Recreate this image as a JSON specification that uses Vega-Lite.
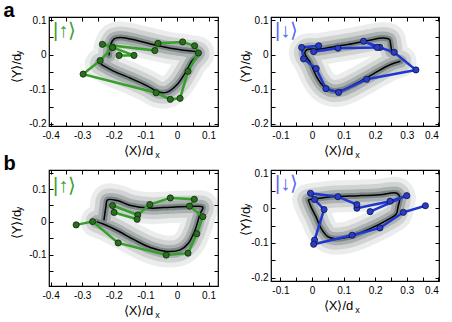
{
"$schema":"https://vega.github.io/schema/vega-lite/v6.json",
"padding":{"left":3,"top":0,"right":0,"bottom":0},
"config":{"view":{"stroke":"black","strokeWidth":1.2},"font":"Liberation Sans",
 "axis":{"grid":false,"domain":false,"tickSize":-4,"tickColor":"black","tickWidth":1,"labelFont":"Liberation Sans","labelFontSize":10,"labelColor":"black","titleFont":"Liberation Sans","titleFontWeight":"normal","titleColor":"black","zindex":1}},
"datasets":{
"aUpMean":[{"i":1,"x":-0.241,"y":-0.027},{"i":2,"x":-0.199,"y":-0.048},{"i":3,"x":-0.147,"y":-0.068},{"i":4,"x":-0.094,"y":-0.09},{"i":5,"x":-0.058,"y":-0.108},{"i":6,"x":-0.031,"y":-0.108},{"i":7,"x":0.0,"y":-0.087},{"i":8,"x":0.026,"y":-0.053},{"i":9,"x":0.047,"y":-0.019},{"i":10,"x":0.068,"y":0.005},{"i":11,"x":0.031,"y":0.012},{"i":12,"x":-0.021,"y":0.019},{"i":13,"x":-0.073,"y":0.029},{"i":14,"x":-0.126,"y":0.041},{"i":15,"x":-0.178,"y":0.05},{"i":16,"x":-0.199,"y":0.046},{"i":17,"x":-0.21,"y":0.029},{"i":18,"x":-0.215,"y":-0.002}],
"aUpTraj":[{"i":1,"x":-0.183,"y":-0.002},{"i":2,"x":-0.136,"y":-0.002},{"i":3,"x":-0.204,"y":0.021},{"i":4,"x":-0.236,"y":0.03},{"i":5,"x":-0.07,"y":0.012},{"i":6,"x":-0.06,"y":0.033},{"i":7,"x":0.018,"y":0.037},{"i":8,"x":0.056,"y":0.026},{"i":9,"x":0.068,"y":0.005},{"i":10,"x":0.035,"y":-0.048},{"i":11,"x":0.01,"y":-0.126},{"i":12,"x":-0.021,"y":-0.129},{"i":13,"x":-0.066,"y":-0.11},{"i":14,"x":-0.297,"y":-0.056},{"i":15,"x":-0.243,"y":-0.017},{"i":16,"x":-0.204,"y":0.021}],
"aDnMean":[{"i":1,"x":0.28,"y":-0.019},{"i":2,"x":0.247,"y":-0.029},{"i":3,"x":0.193,"y":-0.056},{"i":4,"x":0.138,"y":-0.084},{"i":5,"x":0.095,"y":-0.102},{"i":6,"x":0.062,"y":-0.104},{"i":7,"x":0.035,"y":-0.09},{"i":8,"x":0.013,"y":-0.061},{"i":9,"x":-0.005,"y":-0.024},{"i":10,"x":-0.023,"y":0.005},{"i":11,"x":-0.016,"y":0.015},{"i":12,"x":0.019,"y":0.016},{"i":13,"x":0.073,"y":0.024},{"i":14,"x":0.127,"y":0.032},{"i":15,"x":0.182,"y":0.042},{"i":16,"x":0.225,"y":0.048},{"i":17,"x":0.245,"y":0.044},{"i":18,"x":0.249,"y":0.029},{"i":19,"x":0.252,"y":0.01}],
"aDnTraj":[{"i":1,"x":0.021,"y":0.026},{"i":2,"x":-0.033,"y":0.021},{"i":3,"x":-0.027,"y":-0.012},{"i":4,"x":0.013,"y":-0.04},{"i":5,"x":0.044,"y":-0.098},{"i":6,"x":0.084,"y":-0.109},{"i":7,"x":0.173,"y":-0.071},{"i":8,"x":0.329,"y":-0.044},{"i":9,"x":0.26,"y":0.007},{"i":10,"x":0.215,"y":0.021},{"i":11,"x":0.163,"y":0.039},{"i":12,"x":0.206,"y":0.021},{"i":13,"x":0.082,"y":0.019},{"i":14,"x":0.005,"y":0.009}],
"bUpMean":[{"i":1,"x":-0.231,"y":0.005},{"i":2,"x":-0.225,"y":0.045},{"i":3,"x":-0.22,"y":0.067},{"i":4,"x":-0.189,"y":0.065},{"i":5,"x":-0.147,"y":0.05},{"i":6,"x":-0.084,"y":0.042},{"i":7,"x":-0.021,"y":0.045},{"i":8,"x":0.042,"y":0.047},{"i":9,"x":0.082,"y":0.045},{"i":10,"x":0.073,"y":0.024},{"i":11,"x":0.058,"y":-0.023},{"i":12,"x":0.037,"y":-0.064},{"i":13,"x":0.01,"y":-0.085},{"i":14,"x":-0.031,"y":-0.09},{"i":15,"x":-0.084,"y":-0.078},{"i":16,"x":-0.136,"y":-0.054},{"i":17,"x":-0.189,"y":-0.026},{"i":18,"x":-0.231,"y":-0.007},{"i":19,"x":-0.254,"y":0.001}],
"bUpTraj":[{"i":1,"x":-0.319,"y":-0.009},{"i":2,"x":-0.267,"y":0.001},{"i":3,"x":-0.186,"y":-0.064},{"i":4,"x":-0.034,"y":-0.101},{"i":5,"x":0.035,"y":-0.095},{"i":6,"x":0.063,"y":-0.036},{"i":7,"x":0.082,"y":0.016},{"i":8,"x":0.04,"y":0.048},{"i":9,"x":0.055,"y":0.069},{"i":10,"x":-0.021,"y":0.073},{"i":11,"x":-0.086,"y":0.053},{"i":12,"x":-0.124,"y":0.021},{"i":13,"x":-0.204,"y":0.05},{"i":14,"x":-0.199,"y":0.029},{"i":15,"x":-0.126,"y":0.008}],
"bDnMean":[{"i":1,"x":-0.012,"y":0.024},{"i":2,"x":0.062,"y":0.033},{"i":3,"x":0.149,"y":0.036},{"i":4,"x":0.215,"y":0.039},{"i":5,"x":0.269,"y":0.043},{"i":6,"x":0.278,"y":0.031},{"i":7,"x":0.272,"y":0.003},{"i":8,"x":0.267,"y":-0.016},{"i":9,"x":0.236,"y":-0.035},{"i":10,"x":0.171,"y":-0.064},{"i":11,"x":0.117,"y":-0.083},{"i":12,"x":0.073,"y":-0.088},{"i":13,"x":0.051,"y":-0.083},{"i":14,"x":0.029,"y":-0.059},{"i":15,"x":0.013,"y":-0.026},{"i":16,"x":-0.003,"y":0.003},{"i":17,"x":-0.012,"y":0.024}],
"bDnTraj":[{"i":1,"x":0.184,"y":-0.01},{"i":2,"x":0.3,"y":0.036},{"i":3,"x":0.247,"y":0.02},{"i":4,"x":0.142,"y":0.0},{"i":5,"x":0.142,"y":0.01},{"i":6,"x":0.082,"y":0.033},{"i":7,"x":-0.005,"y":0.043},{"i":8,"x":0.008,"y":0.025},{"i":9,"x":0.038,"y":-0.004},{"i":10,"x":0.008,"y":-0.092},{"i":11,"x":0.005,"y":-0.104},{"i":12,"x":0.127,"y":-0.078},{"i":13,"x":0.215,"y":-0.057},{"i":14,"x":0.289,"y":-0.012},{"i":15,"x":0.359,"y":0.007}]
},
"spacing":-8,
"vconcat":[
{"title":{"text":"a","anchor":"start","fontSize":20,"fontWeight":"bold","offset":-6,"dx":-6,"color":"black"},
 "spacing":18,
 "hconcat":[
 {"width":169,"height":109,
  "title":{"text":"|↑⟩","anchor":"start","frame":"group","fontSize":20,"fontWeight":"normal","color":"#3aa02e","offset":-26,"dx":4},
  "encoding":{"x":{"field":"x","type":"quantitative","scale":{"domain":[-0.405,0.13],"nice":false,"zero":false},"axis":null},"y":{"field":"y","type":"quantitative","scale":{"domain":[-0.206,0.109],"nice":false,"zero":false},"axis":null},"order":{"field":"i"}},
  "layer":[
   {"data":{"name":"aUpMean"},"mark":{"type":"line","interpolate":"catmull-rom","color":"#3a4848","strokeWidth":32,"opacity":0.1,"strokeCap":"round","strokeJoin":"round"}},
   {"data":{"name":"aUpMean"},"mark":{"type":"line","interpolate":"catmull-rom","color":"#3a4848","strokeWidth":22,"opacity":0.15,"strokeCap":"round","strokeJoin":"round"}},
   {"data":{"name":"aUpMean"},"mark":{"type":"line","interpolate":"catmull-rom","color":"#3a4848","strokeWidth":13,"opacity":0.25,"strokeCap":"round","strokeJoin":"round"}},
   {"data":{"name":"aUpMean"},"mark":{"type":"line","interpolate":"catmull-rom","color":"#3a4848","strokeWidth":6,"opacity":0.4,"strokeCap":"round","strokeJoin":"round"}},
   {"data":{"name":"aUpMean"},"mark":{"type":"line","interpolate":"catmull-rom","color":"black","strokeWidth":1.5}},
   {"data":{"name":"aUpTraj"},"mark":{"type":"line","color":"#35a02a","strokeWidth":2.5},
    "encoding":{"x":{"field":"x","type":"quantitative","scale":{"domain":[-0.405,0.13],"nice":false,"zero":false},"axis":{"orient":"bottom","values":[-0.4,-0.35,-0.3,-0.25,-0.2,-0.15,-0.1,-0.05,0,0.05,0.1],"labelExpr":"abs(round(datum.value*100))%10==0 ? (datum.value<0?'-':'')+format(abs(datum.value),'.1~f') : ''","labelPadding":8,"title":"⟨X⟩/d","titleFontSize":13,"titleX":89,"titleY":28,"titleBaseline":"alphabetic","titleAlign":"center"}},
     "y":{"field":"y","type":"quantitative","scale":{"domain":[-0.206,0.109],"nice":false,"zero":false},"axis":{"orient":"left","values":[-0.2,-0.15,-0.1,-0.05,0,0.05,0.1],"labelExpr":"abs(round(datum.value*100))%10==0 ? (datum.value<0?'-':'')+format(abs(datum.value),'.1~f') : ''","labelPadding":7,"title":"⟨Y⟩/d","titleFontSize":13,"titleAngle":270,"titleX":-29,"titleY":51,"titleBaseline":"alphabetic","titleAlign":"center"}}}},
   {"data":{"name":"aUpTraj"},"mark":{"type":"point","filled":true,"fill":"#2b6e20","stroke":"#0d2a08","strokeWidth":0.8,"size":38,"opacity":1},
    "encoding":{"x":{"field":"x","type":"quantitative","scale":{"domain":[-0.405,0.13],"nice":false,"zero":false},"axis":{"orient":"top","values":[-0.4,-0.35,-0.3,-0.25,-0.2,-0.15,-0.1,-0.05,0,0.05,0.1],"labels":false,"title":"x","titleFontSize":9,"titleX":108,"titleY":140.5,"titleBaseline":"alphabetic","titleAlign":"center"}},
     "y":{"field":"y","type":"quantitative","scale":{"domain":[-0.206,0.109],"nice":false,"zero":false},"axis":{"orient":"right","values":[-0.2,-0.15,-0.1,-0.05,0,0.05,0.1],"labels":false,"title":"y","titleFontSize":9,"titleAngle":270,"titleX":-196.5,"titleY":35.5,"titleBaseline":"alphabetic","titleAlign":"center"}}}}
  ]},
 {"width":168,"height":109,
  "title":{"text":"|↓⟩","anchor":"start","frame":"group","fontSize":20,"fontWeight":"normal","color":"#5a6af0","offset":-26,"dx":4},
  "encoding":{"x":{"field":"x","type":"quantitative","scale":{"domain":[-0.13,0.402],"nice":false,"zero":false},"axis":null},"y":{"field":"y","type":"quantitative","scale":{"domain":[-0.206,0.109],"nice":false,"zero":false},"axis":null},"order":{"field":"i"}},
  "layer":[
   {"data":{"name":"aDnMean"},"mark":{"type":"line","interpolate":"catmull-rom","color":"#3a4848","strokeWidth":32,"opacity":0.1,"strokeCap":"round","strokeJoin":"round"}},
   {"data":{"name":"aDnMean"},"mark":{"type":"line","interpolate":"catmull-rom","color":"#3a4848","strokeWidth":22,"opacity":0.15,"strokeCap":"round","strokeJoin":"round"}},
   {"data":{"name":"aDnMean"},"mark":{"type":"line","interpolate":"catmull-rom","color":"#3a4848","strokeWidth":13,"opacity":0.25,"strokeCap":"round","strokeJoin":"round"}},
   {"data":{"name":"aDnMean"},"mark":{"type":"line","interpolate":"catmull-rom","color":"#3a4848","strokeWidth":6,"opacity":0.4,"strokeCap":"round","strokeJoin":"round"}},
   {"data":{"name":"aDnMean"},"mark":{"type":"line","interpolate":"catmull-rom","color":"black","strokeWidth":1.5}},
   {"data":{"name":"aDnTraj"},"mark":{"type":"line","color":"#1f36d2","strokeWidth":2.5},
    "encoding":{"x":{"field":"x","type":"quantitative","scale":{"domain":[-0.13,0.402],"nice":false,"zero":false},"axis":{"orient":"bottom","values":[-0.1,-0.05,0,0.05,0.1,0.15,0.2,0.25,0.3,0.35,0.4],"labelExpr":"abs(round(datum.value*100))%10==0 ? (datum.value<0?'-':'')+format(abs(datum.value),'.1~f') : ''","labelPadding":8,"title":"⟨X⟩/d","titleFontSize":13,"titleX":67,"titleY":28,"titleBaseline":"alphabetic","titleAlign":"center"}},
     "y":{"field":"y","type":"quantitative","scale":{"domain":[-0.206,0.109],"nice":false,"zero":false},"axis":{"orient":"left","values":[-0.2,-0.15,-0.1,-0.05,0,0.05,0.1],"labelExpr":"abs(round(datum.value*100))%10==0 ? (datum.value<0?'-':'')+format(abs(datum.value),'.1~f') : ''","labelPadding":7,"title":"⟨Y⟩/d","titleFontSize":13,"titleAngle":270,"titleX":-22,"titleY":51,"titleBaseline":"alphabetic","titleAlign":"center"}}}},
   {"data":{"name":"aDnTraj"},"mark":{"type":"point","filled":true,"fill":"#2a3fc0","stroke":"#0a1050","strokeWidth":0.8,"size":38,"opacity":1},
    "encoding":{"x":{"field":"x","type":"quantitative","scale":{"domain":[-0.13,0.402],"nice":false,"zero":false},"axis":{"orient":"top","values":[-0.1,-0.05,0,0.05,0.1,0.15,0.2,0.25,0.3,0.35,0.4],"labels":false,"title":"x","titleFontSize":9,"titleX":86,"titleY":140.5,"titleBaseline":"alphabetic","titleAlign":"center"}},
     "y":{"field":"y","type":"quantitative","scale":{"domain":[-0.206,0.109],"nice":false,"zero":false},"axis":{"orient":"right","values":[-0.2,-0.15,-0.1,-0.05,0,0.05,0.1],"labels":false,"title":"y","titleFontSize":9,"titleAngle":270,"titleX":-189.5,"titleY":35.5,"titleBaseline":"alphabetic","titleAlign":"center"}}}}
  ]}
 ]},
{"title":{"text":"b","anchor":"start","fontSize":20,"fontWeight":"bold","offset":-6,"dx":-6,"color":"black"},
 "spacing":18,
 "hconcat":[
 {"width":169,"height":116,
  "title":{"text":"|↑⟩","anchor":"start","frame":"group","fontSize":20,"fontWeight":"normal","color":"#3aa02e","offset":-26,"dx":4},
  "encoding":{"x":{"field":"x","type":"quantitative","scale":{"domain":[-0.405,0.13],"nice":false,"zero":false},"axis":null},"y":{"field":"y","type":"quantitative","scale":{"domain":[-0.195,0.158],"nice":false,"zero":false},"axis":null},"order":{"field":"i"}},
  "layer":[
   {"data":{"name":"bUpMean"},"mark":{"type":"line","interpolate":"catmull-rom","color":"#3a4848","strokeWidth":32,"opacity":0.1,"strokeCap":"round","strokeJoin":"round"}},
   {"data":{"name":"bUpMean"},"mark":{"type":"line","interpolate":"catmull-rom","color":"#3a4848","strokeWidth":22,"opacity":0.15,"strokeCap":"round","strokeJoin":"round"}},
   {"data":{"name":"bUpMean"},"mark":{"type":"line","interpolate":"catmull-rom","color":"#3a4848","strokeWidth":13,"opacity":0.25,"strokeCap":"round","strokeJoin":"round"}},
   {"data":{"name":"bUpMean"},"mark":{"type":"line","interpolate":"catmull-rom","color":"#3a4848","strokeWidth":6,"opacity":0.4,"strokeCap":"round","strokeJoin":"round"}},
   {"data":{"name":"bUpMean"},"mark":{"type":"line","interpolate":"catmull-rom","color":"black","strokeWidth":1.5}},
   {"data":{"name":"bUpTraj"},"mark":{"type":"line","color":"#35a02a","strokeWidth":2.5},
    "encoding":{"x":{"field":"x","type":"quantitative","scale":{"domain":[-0.405,0.13],"nice":false,"zero":false},"axis":{"orient":"bottom","values":[-0.4,-0.35,-0.3,-0.25,-0.2,-0.15,-0.1,-0.05,0,0.05,0.1],"labelExpr":"abs(round(datum.value*100))%10==0 ? (datum.value<0?'-':'')+format(abs(datum.value),'.1~f') : ''","labelPadding":8,"title":"⟨X⟩/d","titleFontSize":13,"titleX":89,"titleY":28,"titleBaseline":"alphabetic","titleAlign":"center"}},
     "y":{"field":"y","type":"quantitative","scale":{"domain":[-0.195,0.158],"nice":false,"zero":false},"axis":{"orient":"left","values":[-0.15,-0.1,-0.05,0,0.05,0.1,0.15],"labelExpr":"abs(round(datum.value*100))%10==0 ? (datum.value<0?'-':'')+format(abs(datum.value),'.1~f') : ''","labelPadding":7,"title":"⟨Y⟩/d","titleFontSize":13,"titleAngle":270,"titleX":-29,"titleY":54,"titleBaseline":"alphabetic","titleAlign":"center"}}}},
   {"data":{"name":"bUpTraj"},"mark":{"type":"point","filled":true,"fill":"#2b6e20","stroke":"#0d2a08","strokeWidth":0.8,"size":38,"opacity":1},
    "encoding":{"x":{"field":"x","type":"quantitative","scale":{"domain":[-0.405,0.13],"nice":false,"zero":false},"axis":{"orient":"top","values":[-0.4,-0.35,-0.3,-0.25,-0.2,-0.15,-0.1,-0.05,0,0.05,0.1],"labels":false,"title":"x","titleFontSize":9,"titleX":108,"titleY":147.5,"titleBaseline":"alphabetic","titleAlign":"center"}},
     "y":{"field":"y","type":"quantitative","scale":{"domain":[-0.195,0.158],"nice":false,"zero":false},"axis":{"orient":"right","values":[-0.15,-0.1,-0.05,0,0.05,0.1,0.15],"labels":false,"title":"y","titleFontSize":9,"titleAngle":270,"titleX":-196.5,"titleY":38.5,"titleBaseline":"alphabetic","titleAlign":"center"}}}}
  ]},
 {"width":168,"height":111,
  "title":{"text":"|↓⟩","anchor":"start","frame":"group","fontSize":20,"fontWeight":"normal","color":"#5a6af0","offset":-26,"dx":4},
  "encoding":{"x":{"field":"x","type":"quantitative","scale":{"domain":[-0.13,0.402],"nice":false,"zero":false},"axis":null},"y":{"field":"y","type":"quantitative","scale":{"domain":[-0.21,0.11],"nice":false,"zero":false},"axis":null},"order":{"field":"i"}},
  "layer":[
   {"data":{"name":"bDnMean"},"mark":{"type":"line","interpolate":"catmull-rom","color":"#3a4848","strokeWidth":32,"opacity":0.1,"strokeCap":"round","strokeJoin":"round"}},
   {"data":{"name":"bDnMean"},"mark":{"type":"line","interpolate":"catmull-rom","color":"#3a4848","strokeWidth":22,"opacity":0.15,"strokeCap":"round","strokeJoin":"round"}},
   {"data":{"name":"bDnMean"},"mark":{"type":"line","interpolate":"catmull-rom","color":"#3a4848","strokeWidth":13,"opacity":0.25,"strokeCap":"round","strokeJoin":"round"}},
   {"data":{"name":"bDnMean"},"mark":{"type":"line","interpolate":"catmull-rom","color":"#3a4848","strokeWidth":6,"opacity":0.4,"strokeCap":"round","strokeJoin":"round"}},
   {"data":{"name":"bDnMean"},"mark":{"type":"line","interpolate":"catmull-rom","color":"black","strokeWidth":1.5}},
   {"data":{"name":"bDnTraj"},"mark":{"type":"line","color":"#1f36d2","strokeWidth":2.5},
    "encoding":{"x":{"field":"x","type":"quantitative","scale":{"domain":[-0.13,0.402],"nice":false,"zero":false},"axis":{"orient":"bottom","values":[-0.1,-0.05,0,0.05,0.1,0.15,0.2,0.25,0.3,0.35,0.4],"labelExpr":"abs(round(datum.value*100))%10==0 ? (datum.value<0?'-':'')+format(abs(datum.value),'.1~f') : ''","labelPadding":8,"title":"⟨X⟩/d","titleFontSize":13,"titleX":67,"titleY":28,"titleBaseline":"alphabetic","titleAlign":"center"}},
     "y":{"field":"y","type":"quantitative","scale":{"domain":[-0.21,0.11],"nice":false,"zero":false},"axis":{"orient":"left","values":[-0.2,-0.15,-0.1,-0.05,0,0.05,0.1],"labelExpr":"abs(round(datum.value*100))%10==0 ? (datum.value<0?'-':'')+format(abs(datum.value),'.1~f') : ''","labelPadding":7,"title":"⟨Y⟩/d","titleFontSize":13,"titleAngle":270,"titleX":-22,"titleY":51,"titleBaseline":"alphabetic","titleAlign":"center"}}}},
   {"data":{"name":"bDnTraj"},"mark":{"type":"point","filled":true,"fill":"#2a3fc0","stroke":"#0a1050","strokeWidth":0.8,"size":38,"opacity":1},
    "encoding":{"x":{"field":"x","type":"quantitative","scale":{"domain":[-0.13,0.402],"nice":false,"zero":false},"axis":{"orient":"top","values":[-0.1,-0.05,0,0.05,0.1,0.15,0.2,0.25,0.3,0.35,0.4],"labels":false,"title":"x","titleFontSize":9,"titleX":86,"titleY":142.5,"titleBaseline":"alphabetic","titleAlign":"center"}},
     "y":{"field":"y","type":"quantitative","scale":{"domain":[-0.21,0.11],"nice":false,"zero":false},"axis":{"orient":"right","values":[-0.2,-0.15,-0.1,-0.05,0,0.05,0.1],"labels":false,"title":"y","titleFontSize":9,"titleAngle":270,"titleX":-189.5,"titleY":35.5,"titleBaseline":"alphabetic","titleAlign":"center"}}}}
  ]}
 ]}
]
}
